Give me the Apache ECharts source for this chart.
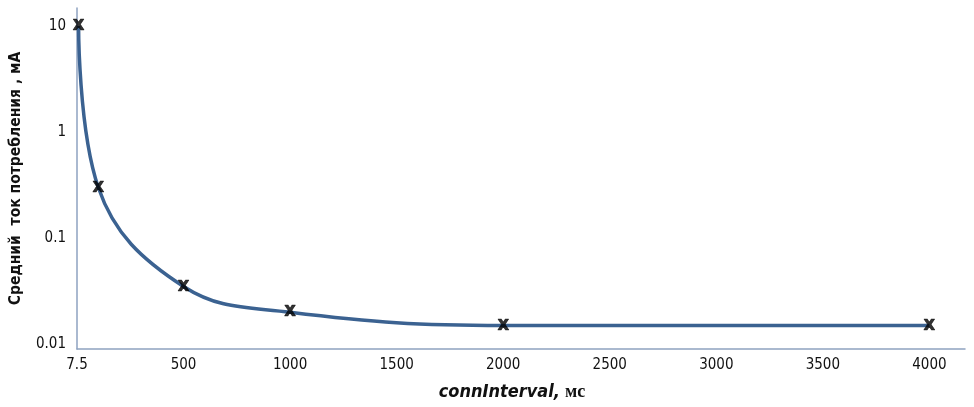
<!DOCTYPE html>
<html>
<head>
<meta charset="utf-8">
<script src="https://cdn.jsdelivr.net/npm/echarts@6/dist/echarts.min.js"></script>
<style>
  html, body { margin: 0; padding: 0; background: #fff; }
  #chart { width: 974px; height: 407px; }
</style>
</head>
<body>
<div id="chart"></div>
<script>
// Connection interval, ms
const intervals = [7.5, 100, 500, 1000, 2000, 4000];
// Average current, mA
const currents = [10, 0.3, 0.035, 0.02, 0.015, 0.015];

// X tick values and the labels printed under them
const xTickValues = [0, 500, 1000, 1500, 2000, 2500, 3000, 3500, 4000];
const xTickLabels = ['7.5', '500', '1000', '1500', '2000', '2500', '3000', '3500', '4000'];
// Y (log) tick labels
const yTickLabels = ['0.01', '0.1', '1', '10'];

const narrow = '"Liberation Sans Narrow", "DejaVu Sans Condensed", "Arial Narrow", sans-serif';
const axisColor = '#8ea2c0';
const lineColor = '#3b6291';

const points = intervals.map((x, i) => [x, currents[i]]);

const chart = echarts.init(document.getElementById('chart'), null, { renderer: 'canvas' });

chart.setOption({
  animation: false,
  backgroundColor: '#ffffff',
  grid: { left: 72, right: 9, top: 8, bottom: 58, containLabel: false },
  title: {
    left: 507,
    top: 378,
    textAlign: 'center',
    text: '{a|connInterval,} {b|мс}',
    textStyle: {
      rich: {
        a: { fontFamily: narrow, fontStyle: 'italic', fontWeight: 'bold', fontSize: 18, color: '#111' },
        b: { fontFamily: '"Liberation Serif", "DejaVu Serif", serif', fontWeight: 'bold', fontSize: 18, color: '#111' }
      }
    }
  },
  xAxis: {
    type: 'value',
    min: 0,
    max: 4167,
    interval: 500,
    axisLine: { show: true, lineStyle: { color: axisColor, width: 1.5 } },
    axisTick: { show: false },
    splitLine: { show: false },
    axisLabel: {
      margin: 9,
      fontFamily: narrow,
      fontSize: 15,
      color: '#111',
      showMaxLabel: false,
      formatter: function (v) {
        const i = xTickValues.indexOf(v);
        return i >= 0 ? xTickLabels[i] : '';
      }
    }
  },
  yAxis: {
    type: 'log',
    logBase: 10,
    min: 0.009,
    max: 14.8,
    axisLine: { show: true, lineStyle: { color: axisColor, width: 1.5 } },
    axisTick: { show: false },
    splitLine: { show: false },
    name: 'Средний  ток потребления , мА',
    nameLocation: 'middle',
    nameGap: 53,
    nameTextStyle: { fontFamily: narrow, fontWeight: 'bold', fontSize: 15.5, color: '#111' },
    axisLabel: {
      margin: 11,
      fontFamily: narrow,
      fontSize: 15,
      color: '#111',
      showMinLabel: false,
      showMaxLabel: false,
      formatter: function (v) {
        const e = Math.round(Math.log10(v));
        if (Math.abs(Math.log10(v) - e) > 1e-6) return '';
        const p = Math.pow(10, e);
        const s = String(p >= 1 ? p : Number(p.toFixed(-e)));
        return yTickLabels.indexOf(s) >= 0 ? s : '';
      }
    }
  },
  series: [
    {
      type: 'line',
      data: points,
      smooth: 0.4,
      symbol: 'none',
      lineStyle: { color: lineColor, width: 3.5 },
      z: 2
    },
    {
      type: 'scatter',
      data: points,
      symbol: 'circle',
      symbolSize: 4,
      itemStyle: { color: 'rgba(0,0,0,0)' },
      label: {
        show: true,
        position: 'inside',
        formatter: 'x',
        fontFamily: narrow,
        fontWeight: 'bold',
        fontSize: 20,
        color: '#000',
        textBorderColor: '#000',
        textBorderWidth: 0.6,
        offset: [0, -1]
      },
      z: 3
    }
  ]
});
</script>
</body>
</html>
